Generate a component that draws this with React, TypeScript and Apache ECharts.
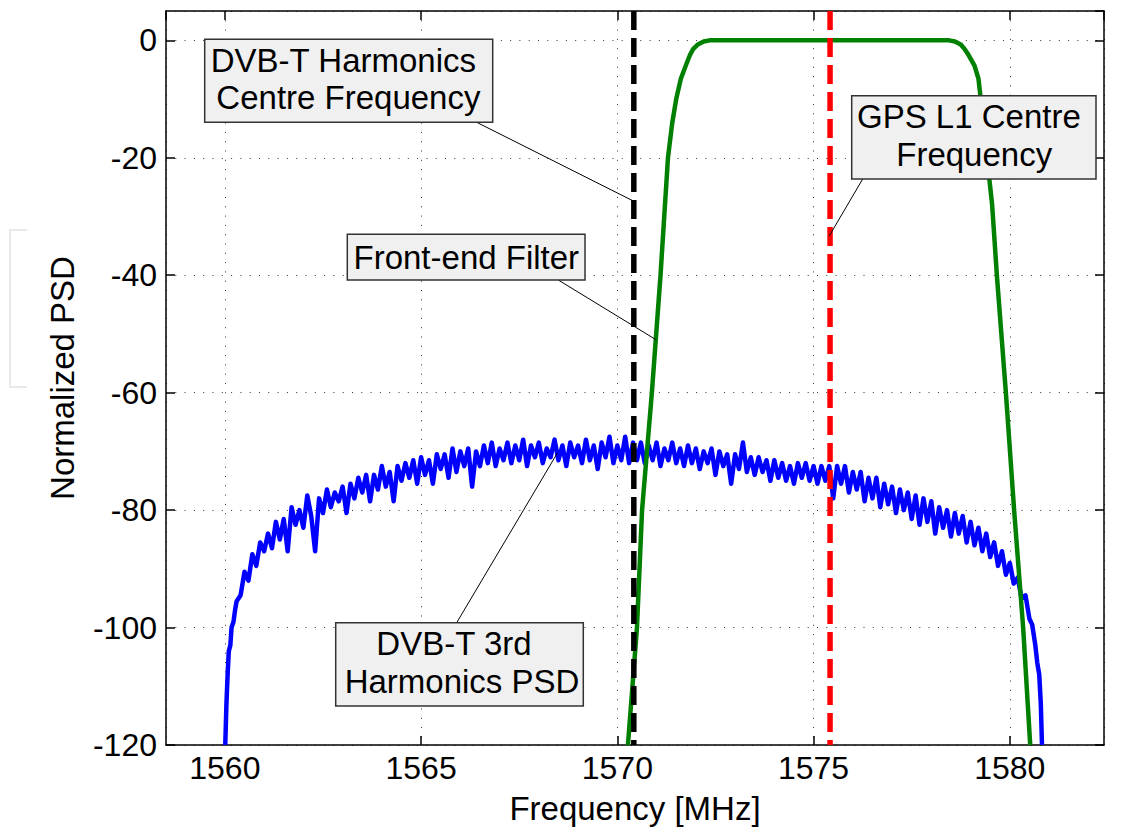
import React, { useEffect, useRef } from "react";
import * as echarts from "echarts";

// ---- axes ----
const X_MIN = 1558.5;
const X_MAX = 1582.4;
const Y_MIN = -120;
const Y_MAX = 5;
const Y_STEP = 20;

// ---- DVB-T 3rd harmonics PSD ----
const psdLeftEdge: [number, number][] = [
  [1560.01, -120], [1560.04, -113], [1560.07, -108], [1560.1, -104], [1560.14, -103],
  [1560.17, -100], [1560.22, -99], [1560.26, -97],
];
const psdStart = 1560.3;
const psdStep = 0.1;
const psdValues: number[] = [
  -95.5, -94.5, -90.5, -92, -87.5, -89.5, -85.5, -87, -84, -86.5,
  -82, -85, -81.5, -87, -79.5, -82.5, -80, -83, -77.5, -81,
  -87, -78, -80.5, -76.5, -79.5, -77, -78.5, -76, -80.5, -75.5,
  -78, -74.5, -77, -74, -78.5, -74, -76.5, -72.5, -76, -73.5,
  -78.5, -72.5, -75, -72, -74.5, -71.5, -75.5, -71, -74, -71.5,
  -75.5, -70.5, -73, -70.5, -74.5, -69.5, -73.5, -70, -72.5, -69.5,
  -76, -70, -72.5, -69, -72, -68.5, -72.5, -69.5, -71.5, -68.5,
  -72, -69, -71.5, -68, -72.5, -69, -71, -68.5, -72, -69.5,
  -71, -68, -71.5, -69, -72.5, -68.5, -71, -69, -72, -68,
  -71.5, -69, -73, -68.5, -71, -67.5, -72, -69, -71.5, -67.5,
  -72, -68.5, -71.5, -68.5, -72, -69, -71.5, -68.5, -72.5, -69.5,
  -71.5, -68.5, -72, -69.5, -72.5, -69, -72, -69.5, -73, -70,
  -72, -69.5, -74, -70, -72.5, -70.5, -75.5, -70.5, -73, -68.5,
  -73.5, -71, -74, -71, -73.5, -71.5, -75, -71.5, -74.5, -72,
  -75, -72.5, -75.5, -72, -74.5, -72, -75, -72.5, -75.5, -72.5,
  -75, -72.5, -78, -72.5, -75.5, -72.5, -77, -73.5, -76.5, -73.5,
  -78.5, -74.5, -78, -74.5, -79.5, -75.5, -79, -76, -80.5, -76.5,
  -80, -77, -81.5, -77.5, -82.5, -78, -82, -78.5, -84, -79.5,
  -83, -80, -84.5, -80.5, -84, -81, -85.5, -82, -86, -83,
  -87, -84, -88, -85.5, -89.5, -87, -91, -89, -92.5, -91.5,
  -95, -94.5, -98.5,
];
const psdRightEdge: [number, number][] = [
  [1580.57, -99.5], [1580.65, -103], [1580.7, -106], [1580.75, -108], [1580.79, -113], [1580.82, -120],
];

// ---- front-end filter response ----
const filterFreq = [
  1570.27, 1570.5, 1570.63, 1570.88, 1571.1, 1571.29, 1571.4, 1571.5, 1571.62, 1571.75,
  1571.85, 1571.93, 1572.05, 1572.2, 1572.35, 1578.45, 1578.6, 1578.75, 1578.85, 1578.95,
  1579.1, 1579.2, 1579.26, 1579.34, 1579.42, 1579.55, 1579.67, 1579.9, 1580.11, 1580.34, 1580.52,
];
const filterPsd = [
  -120, -100, -80, -60, -40, -20, -14, -10, -6.5, -4.2,
  -2.5, -1.5, -0.7, -0.2, 0, 0, -0.2, -0.7, -1.5, -2.5,
  -4.3, -6.5, -10, -14, -20, -28, -40, -60, -80, -100, -120,
];

// ---- centre frequencies ----
const dvbCentre = 1570.42;
const gpsCentre = 1575.42;

const FONT = "'Liberation Sans', Arial, Helvetica, sans-serif";

export default function App() {
  const ref = useRef<HTMLDivElement>(null);

  useEffect(() => {
    const chart = echarts.init(ref.current as HTMLDivElement, null, { renderer: "svg" });

    const psdData: [number, number][] = [
      ...psdLeftEdge,
      ...psdValues.map((v, i) => [Math.round((psdStart + i * psdStep) * 100) / 100, v] as [number, number]),
      ...psdRightEdge,
    ];
    const filterData = filterFreq.map((f, i) => [f, filterPsd[i]]);

    const gridLine = { show: true, lineStyle: { type: [1, 8.3], color: "#333", width: 1 } };
    const axisLine = { show: true, onZero: false, lineStyle: { color: "#000", width: 1.5 } };
    const tick = { show: true, inside: true, length: 9, lineStyle: { color: "#000", width: 1.5 } };

    chart.setOption({
      animation: false,
      backgroundColor: "#fff",
      grid: { left: 166, right: 31, top: 11, bottom: 79, containLabel: false },
      xAxis: [
        {
          type: "value", min: X_MIN, max: X_MAX, position: "bottom",
          axisLine, axisTick: tick, splitLine: gridLine,
          axisLabel: {
            fontSize: 32, color: "#000", fontFamily: FONT, margin: 7,
            showMinLabel: false, showMaxLabel: false,
            formatter: (v: number) => (Math.abs(v % 5) < 1e-6 ? String(v) : ""),
          },
          name: "Frequency [MHz]", nameLocation: "middle", nameGap: 47,
          nameTextStyle: { fontSize: 33, color: "#000", fontFamily: FONT },
        },
        {
          type: "value", min: X_MIN, max: X_MAX, position: "top",
          axisLine, axisTick: tick, splitLine: { show: false }, axisLabel: { show: false },
        },
      ],
      yAxis: [
        {
          type: "value", min: Y_MIN, max: Y_MAX, interval: Y_STEP, position: "left",
          axisLine, axisTick: tick, splitLine: gridLine,
          axisLabel: {
            fontSize: 32, color: "#000", fontFamily: FONT, margin: 9,
            showMaxLabel: false,
            formatter: (v: number) => (Math.abs(v % 20) < 1e-6 ? String(v) : ""),
          },
          name: "Normalized PSD", nameLocation: "middle", nameGap: 87, nameRotate: 90,
          nameTextStyle: { fontSize: 33, color: "#000", fontFamily: FONT },
        },
        {
          type: "value", min: Y_MIN, max: Y_MAX, interval: Y_STEP, position: "right",
          axisLine, axisTick: tick, splitLine: { show: false }, axisLabel: { show: false },
        },
      ],
      series: [
        {
          type: "line", data: psdData, showSymbol: false, symbol: "none", z: 2,
          lineStyle: { color: "#0000ff", width: 4.5, join: "round" }, silent: true,
        },
        {
          type: "line", data: filterData, showSymbol: false, symbol: "none", z: 3,
          lineStyle: { color: "#008000", width: 4.5 }, silent: true,
        },
        {
          type: "line", data: [[dvbCentre, Y_MAX], [dvbCentre, Y_MIN]], showSymbol: false, symbol: "none", z: 4,
          lineStyle: { color: "#000", width: 5.5, type: [19, 8] }, silent: true,
        },
        {
          type: "line", data: [[gpsCentre, Y_MAX], [gpsCentre, Y_MIN]], showSymbol: false, symbol: "none", z: 5,
          lineStyle: { color: "#ff0000", width: 5.5, type: [19, 8] }, silent: true,
        },
      ],
    });

    const px = (x: number, y: number) =>
      chart.convertToPixel({ xAxisIndex: 0, yAxisIndex: 0 }, [x, y]) as number[];

    const leader = (x1: number, y1: number, x: number, y: number) => {
      const p = px(x, y);
      return { type: "line", z: 10, shape: { x1, y1, x2: p[0], y2: p[1] }, style: { stroke: "#000", lineWidth: 1 } };
    };
    const box = (x: number, y: number, w: number, h: number) => ({
      type: "rect", z: 11, shape: { x, y, width: w, height: h },
      style: { fill: "#f0f0f0", stroke: "#333", lineWidth: 1.5 },
    });
    const label = (text: string, x: number, y: number) => ({
      type: "text", z: 12, x, y,
      style: { text, fill: "#000", font: `33px ${FONT}`, align: "center", verticalAlign: "middle" },
    });

    chart.setOption({
      graphic: [
        { type: "polyline", z: 1, shape: { points: [[27, 230], [10, 230], [10, 387], [27, 387]] }, style: { stroke: "#e9e9e9", lineWidth: 2, fill: "none" } },
        leader(476.7, 122.3, dvbCentre, -27.4),
        leader(558.3, 280, 1570.99, -51),
        leader(456.7, 622.7, 1568.47, -70.3),
        leader(862.7, 179, gpsCentre - 0.02, -33.3),
        box(204.7, 39.3, 288, 83),
        label("DVB-T Harmonics", 343.4, 60.3),
        label("Centre Frequency", 348.4, 97.6),
        box(347.3, 234.3, 237.7, 45.7),
        label("Front-end Filter", 466.3, 257.9),
        box(335.7, 622.7, 247.6, 83.3),
        label("DVB-T 3rd", 454, 643.6),
        label("Harmonics PSD", 462, 681.3),
        box(851.7, 95.7, 244.3, 83.3),
        label("GPS L1 Centre", 968.9, 116.3),
        label("Frequency", 974.2, 154.6),
      ],
    });

    return () => chart.dispose();
  }, []);

  return (
    <div
      ref={ref}
      style={{ position: "fixed", left: 0, top: 0, width: 1135, height: 830, background: "#fff" }}
    />
  );
}
